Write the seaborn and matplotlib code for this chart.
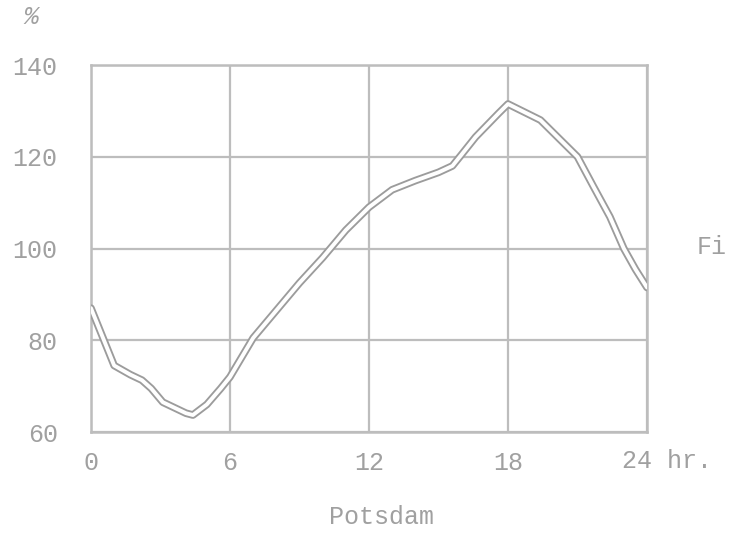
import matplotlib
matplotlib.use("Agg")
import matplotlib.pyplot as plt
import seaborn as sns
import pandas as pd

# Daily variation (% of mean) at Potsdam
hours = [0, 0.4, 1, 1.7, 2.2, 2.6, 3.1, 4.1, 4.4, 5, 5.6, 6, 7, 8, 8.5, 9, 10, 11, 12,
         13, 14, 15, 15.6, 16, 16.6, 17.6, 18, 19, 19.4, 20, 21, 21.7, 22.4, 23, 23.5, 24]
percent = [87, 82, 74.5, 72.5, 71.3, 69.5, 66.5, 64.1, 63.7, 66, 69.5, 72, 80.5, 86.5, 89.5, 92.5, 98, 104, 109,
           112.8, 114.8, 116.6, 118, 120.5, 124.3, 129.5, 131.5, 129, 128, 125, 120, 113.4, 106.9, 100, 95.5, 91.5]

y_ticks = [60, 80, 100, 120, 140]
x_ticks = [0, 6, 12, 18, 24]
x_tick_labels = ["0", "6", "12", "18", ""]

df = pd.DataFrame({"hour": hours, "pct": percent})

sns.set_style("white")
plt.rcParams["font.family"] = ["Liberation Mono", "DejaVu Sans Mono"]

ink = "#a0a0a0"
fig = plt.figure(figsize=(7.29, 5.35), dpi=100)
ax = fig.add_axes([0.1248, 0.1925, 0.7627, 0.686])

# hollow "tube" line: grey outline with white core
sns.lineplot(data=df, x="hour", y="pct", ax=ax, color="#9c9c9c", linewidth=5.5,
             solid_capstyle="round", solid_joinstyle="round", zorder=3)
sns.lineplot(data=df, x="hour", y="pct", ax=ax, color="white", linewidth=2.8,
             solid_capstyle="round", solid_joinstyle="round", zorder=4)

ax.set_xlim(0, 24)
ax.set_ylim(60, 140)
ax.set_xticks(x_ticks)
ax.set_xticklabels(x_tick_labels)
ax.set_yticks(y_ticks)
ax.set_yticklabels([str(v) for v in y_ticks])
ax.grid(True, color="#bdbdbd", linewidth=1.6)
for s in ax.spines.values():
    s.set_color("#bdbdbd")
    s.set_linewidth(1.8)
ax.tick_params(axis="both", length=0, labelsize=18, colors=ink)
ax.tick_params(axis="y", pad=24)
ax.tick_params(axis="x", pad=14)
ax.set_xlabel("")
ax.set_ylabel("")

fig.text(0.853, 0.1375, "24 hr.", fontsize=18, color=ink, ha="left", va="center")
fig.text(0.043, 0.968, "%", fontsize=18, color=ink, ha="center", va="center", style="italic")
fig.text(0.523, 0.033, "Potsdam", fontsize=18, color=ink, ha="center", va="center")
fig.text(0.955, 0.538, "Fi", fontsize=18, color=ink, ha="left", va="center")

fig.savefig("out.png", dpi=100, facecolor="white")
